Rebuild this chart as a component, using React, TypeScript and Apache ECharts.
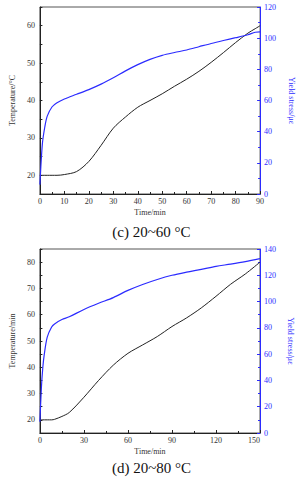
import React, { useEffect, useRef } from "react";
import * as echarts from "echarts";

// Chart (c)
const timeC = [0, 1, 2, 3, 5, 7, 10, 15, 20, 25, 30, 35, 40, 45, 50, 55, 60, 65, 70, 75, 80, 85, 88, 90];
const tempC = [20, 20, 20, 20, 20, 20, 20.2, 21, 23.7, 28, 32.6, 35.6, 38.2, 40, 41.8, 43.8, 45.7, 47.8, 50.2, 52.8, 55.5, 58, 59.2, 60];
const stressC = [6, 32, 43, 50, 56, 58.6, 61, 64, 67, 70.5, 74.6, 79, 83, 86.4, 89, 90.8, 92.4, 94.5, 96.6, 98.5, 100.3, 102.2, 103.8, 104];

// Chart (d)
const timeD = [0, 1, 2, 3, 5, 8, 10, 15, 20, 30, 40, 50, 60, 70, 80, 90, 100, 110, 120, 130, 140, 150];
const tempD = [20, 20, 20, 20, 20, 20, 20.2, 21.3, 22.8, 28.6, 35, 40.8, 45.3, 48.5, 51.7, 55.5, 58.8, 62.6, 67, 71.6, 75.5, 80];
const stressD = [8.5, 34, 50, 60, 73, 80.7, 83, 86.3, 88.4, 94, 98.7, 103, 108.5, 113, 116.8, 120, 122.4, 124.5, 126.8, 128.5, 130.4, 132.7];

const xTicksC = { min: 0, max: 90, interval: 10 };
const xTicksD = { min: 0, max: 150, interval: 30 };
const leftC = { min: 15, max: 65, interval: 5 };
const leftD = { min: 15, max: 85, interval: 5 };
const leftLabelsC = [20, 30, 40, 50, 60];
const leftLabelsD = [20, 30, 40, 50, 60, 70, 80];
const rightC = { min: 0, max: 120, interval: 20 };
const rightD = { min: 0, max: 140, interval: 20 };

const FONT = "Liberation Serif";
const BLUE = "#2b2bff";
const BLACK = "#222";

function xAxis(gridIndex: number, r: { min: number; max: number; interval: number }, alignMax?: string) {
  return {
    type: "value",
    gridIndex,
    ...r,
    name: "Time/min",
    nameLocation: "middle",
    nameGap: 14,
    nameTextStyle: { fontFamily: FONT, fontSize: 8, color: "#333" },
    axisLine: { show: true, lineStyle: { color: BLACK, width: 1 } },
    axisTick: { show: true, inside: true, length: 3, lineStyle: { color: BLACK } },
    minorTick: { show: true, splitNumber: 2, length: 2, lineStyle: { color: BLACK } },
    axisLabel: { fontFamily: FONT, fontSize: 8, color: "#333", margin: 3, ...(alignMax ? { alignMaxLabel: alignMax } : {}) },
    splitLine: { show: false },
  };
}

function leftAxis(
  gridIndex: number,
  r: { min: number; max: number; interval: number },
  labels: number[],
  name: string
) {
  return {
    type: "value",
    gridIndex,
    position: "left",
    ...r,
    name,
    nameLocation: "middle",
    nameGap: 16,
    nameTextStyle: { fontFamily: FONT, fontSize: 8, color: "#333" },
    axisLine: { show: true, lineStyle: { color: BLACK, width: 1 } },
    axisTick: { show: true, inside: true, length: 2.5, lineStyle: { color: BLACK } },
    minorTick: { show: false },
    axisLabel: {
      fontFamily: FONT,
      fontSize: 8,
      color: "#333",
      margin: 5,
      customValues: labels,
    },
    splitLine: { show: false },
  };
}

function rightAxis(gridIndex: number, r: { min: number; max: number; interval: number }) {
  return {
    type: "value",
    gridIndex,
    position: "right",
    ...r,
    name: "Yield stress/με",
    nameLocation: "middle",
    nameGap: 20,
    nameRotate: -90,
    nameTextStyle: { fontFamily: FONT, fontSize: 8, color: BLUE },
    axisLine: { show: true, lineStyle: { color: BLUE, width: 1 } },
    axisTick: { show: true, inside: true, length: 3, lineStyle: { color: BLUE } },
    minorTick: { show: true, splitNumber: 2, length: 2, lineStyle: { color: BLUE } },
    axisLabel: { fontFamily: FONT, fontSize: 8, color: BLUE, margin: 4 },
    splitLine: { show: false },
  };
}

function zip(xs: number[], ys: number[]) {
  return xs.map((x, i) => [x, ys[i]]);
}

export default function App() {
  const ref = useRef<HTMLDivElement>(null);
  useEffect(() => {
    if (!ref.current) return;
    const chart = echarts.init(ref.current, undefined, { renderer: "svg" });
    chart.setOption({
      animation: false,
      backgroundColor: "#fff",
      title: [
        {
          text: "(c) 20~60 °C",
          left: "center",
          top: 219,
          textStyle: { fontFamily: FONT, fontSize: 15, fontWeight: "normal", color: "#111" },
        },
        {
          text: "(d) 20~80 °C",
          left: "center",
          top: 455,
          textStyle: { fontFamily: FONT, fontSize: 15, fontWeight: "normal", color: "#111" },
        },
      ],
      grid: [
        { left: 36, top: 7, width: 230, height: 187, show: true, borderColor: "#555", borderWidth: 1, backgroundColor: "transparent" },
        { left: 36, top: 249, width: 224, height: 184, show: true, borderColor: "#555", borderWidth: 1, backgroundColor: "transparent" },
      ],
      xAxis: [xAxis(0, xTicksC), xAxis(1, xTicksD, "right")],
      yAxis: [
        leftAxis(0, leftC, leftLabelsC, "Temperature/°C"),
        rightAxis(0, rightC),
        leftAxis(1, leftD, leftLabelsD, "Temperature/min"),
        rightAxis(1, rightD),
      ],
      series: [
        {
          type: "line",
          xAxisIndex: 0,
          yAxisIndex: 0,
          data: zip(timeC, tempC),
          smooth: 0.3,
          showSymbol: false,
          lineStyle: { color: BLACK, width: 1 },
        },
        {
          type: "line",
          xAxisIndex: 0,
          yAxisIndex: 1,
          data: zip(timeC, stressC),
          smooth: 0.3,
          showSymbol: false,
          lineStyle: { color: BLUE, width: 1.2 },
        },
        {
          type: "line",
          xAxisIndex: 1,
          yAxisIndex: 2,
          data: zip(timeD, tempD),
          smooth: 0.3,
          showSymbol: false,
          lineStyle: { color: BLACK, width: 1 },
        },
        {
          type: "line",
          xAxisIndex: 1,
          yAxisIndex: 3,
          data: zip(timeD, stressD),
          smooth: 0.3,
          showSymbol: false,
          lineStyle: { color: BLUE, width: 1.2 },
        },
      ],
    });
    return () => chart.dispose();
  }, []);
  return (
    <div
      ref={ref}
      style={{ position: "fixed", left: 0, top: 0, width: 303, height: 480, background: "#fff" }}
    />
  );
}
